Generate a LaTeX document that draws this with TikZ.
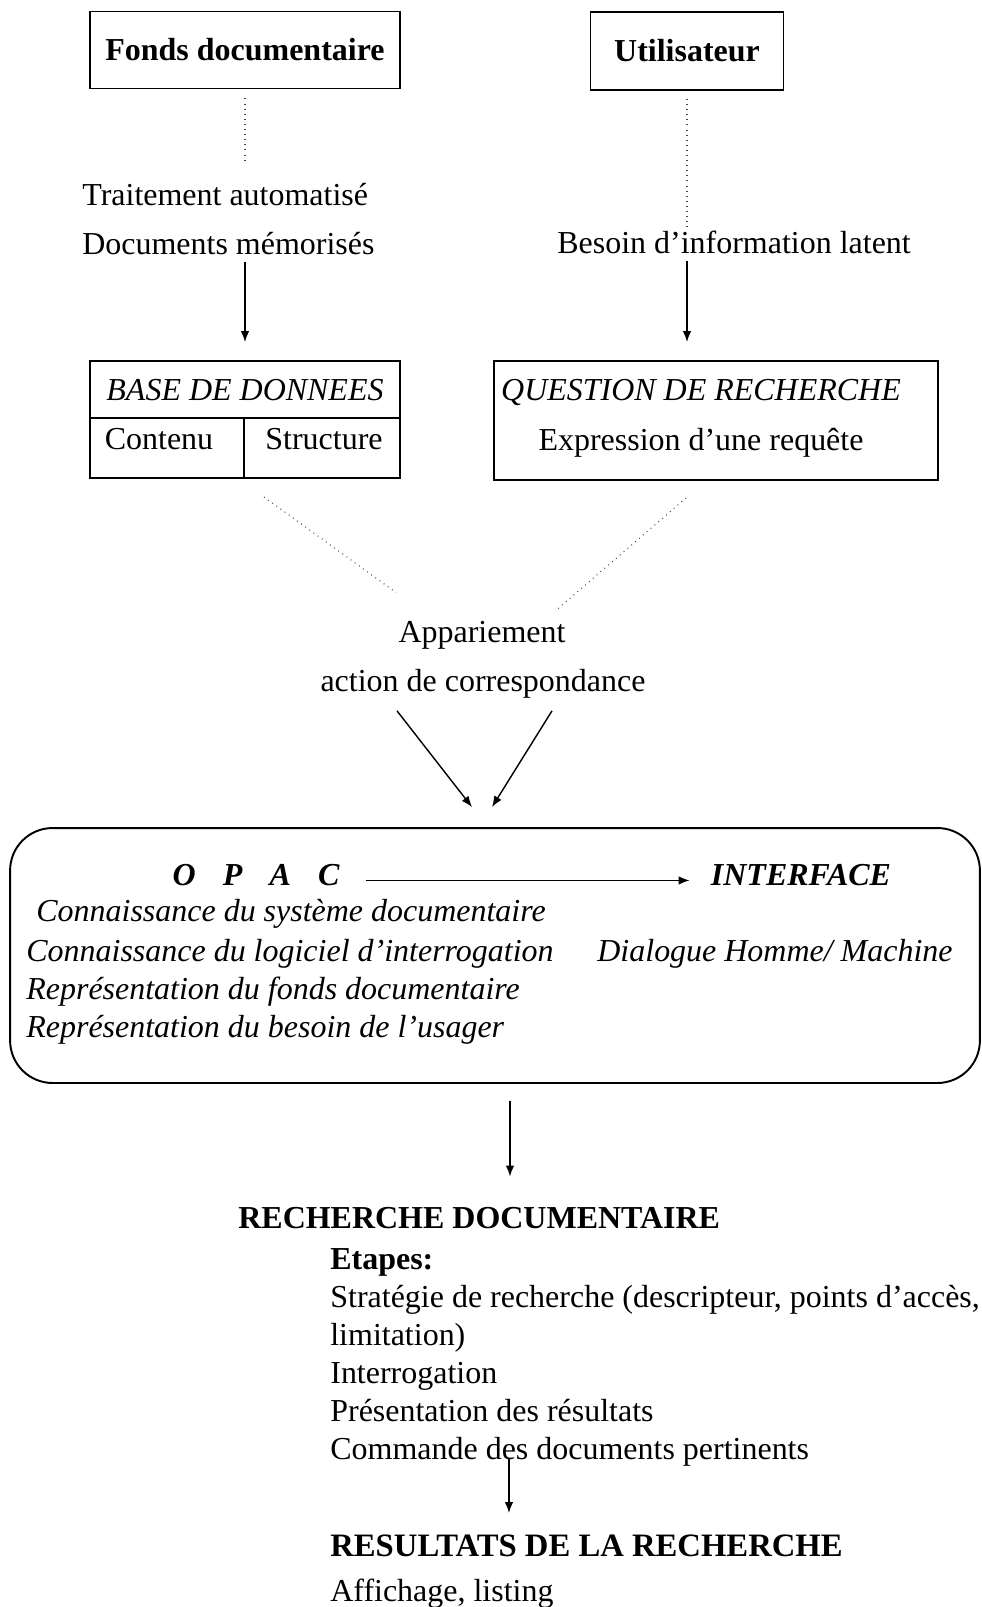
\documentclass[tikz,border=0pt]{standalone}
\usepackage{fontspec}
\setmainfont{Liberation Serif}
\usetikzlibrary{arrows.meta,positioning,calc}
\newcommand{\fsz}{\fontsize{18.2}{21.6}\selectfont}
\tikzset{
  box/.style={draw,line width=1.1pt,inner sep=0pt,font=\fsz},
  lbl/.style={inner sep=0pt,font=\fsz},
  bold/.style={inner sep=0pt,font=\fsz\bfseries},
  ital/.style={inner sep=0pt,font=\fsz\itshape},
  bital/.style={inner sep=0pt,font=\fsz\bfseries\itshape},
  arr/.style={-{Latex[length=2.2mm,width=1.7mm]},line width=0.8pt},
  dotline/.style={line width=0.6pt,dash pattern=on 0.5pt off 2.4pt,black!75},
}

\begin{document}
\begin{tikzpicture}[x=0.02cm,y=-0.02cm]
  \useasboundingbox (0,0) rectangle (982,1607);
  % the two sources
  \node[box,minimum width=6.2cm,minimum height=1.54cm] (fonds) at (245,50) {\bfseries Fonds documentaire\hspace{0.3em}};
  \node[box,minimum width=3.86cm,minimum height=1.56cm] (util) at (687,51) {\bfseries Utilisateur};
  \node[lbl,anchor=mid west] (trait) at (82,201) {Traitement automatisé};
  \node[lbl,anchor=mid west] (docmem) at (82,250) {Documents mémorisés};
  \node[lbl,anchor=mid west] (besoin) at (557,249) {Besoin d’information latent};
  \draw[dotline,shorten <=0.18cm,shorten >=0.44cm] (fonds.south) -- (fonds.south |- trait.north);
  \draw[dotline,shorten <=0.16cm] (util.south) -- (util.south |- besoin.north);
  % base and question
  \node[box,minimum width=6.2cm,minimum height=2.34cm] (base) at (245,419.5) {};
  \node[ital] (basett) at (245,390) {BASE DE DONNEES};
  \coordinate (bsplit) at (244,418);
  \draw[line width=1.1pt] (base.west |- bsplit) -- (base.east |- bsplit);
  \draw[line width=1.1pt] (bsplit) -- (bsplit |- base.south);
  \node[lbl] (contenu) at (159,439) {Contenu};
  \node[lbl] (struct) at (324,439) {Structure};
  \node[box,minimum width=8.88cm,minimum height=2.38cm] (quest) at (716,420.5) {};
  \node[ital] (questt) at (701,392) {QUESTION DE RECHERCHE};
  \node[lbl] (expr) at (701,443) {Expression d’une requête};
  \draw[arr,shorten <=0.14cm,shorten >=0.36cm] (docmem.south -| fonds.south) -- (base.north);
  \draw[arr,shorten <=0.14cm,shorten >=0.36cm] (besoin.south -| util.south) -- (quest.north -| util.south);
  % matching
  \node[lbl] (appar) at (482,635) {Appariement};
  \node[lbl] (corresp) at (483,684) {action de correspondance};
  \draw[dotline] ([shift={(0.38cm,-0.36cm)}]base.south) -- ([shift={(-0.04cm,0.56cm)}]appar.north west);
  \draw[dotline] ([shift={(-0.6cm,-0.34cm)}]quest.south) -- ([shift={(-0.18cm,0.22cm)}]appar.north east);
  \node[box,rounded corners=0.85cm,minimum width=19.4cm,minimum height=5.1cm] (opac) at (495,955.5) {};
  \draw[arr] ([shift={(-1.72cm,-0.24cm)}]corresp.south) -- ([shift={(-0.46cm,0.4cm)}]opac.north);
  \draw[arr] ([shift={(1.38cm,-0.24cm)}]corresp.south) -- ([shift={(-0.06cm,0.4cm)}]opac.north);
  % OPAC / interface
  \node[bital] (opact) at (256,875) {O\hspace{0.85em}P\hspace{0.85em}A\hspace{0.85em}C};
  \node[bital] (iface) at (801,875) {INTERFACE};
  \draw[arr] ([shift={(0.52cm,0.1cm)}]opact.base east) -- ([shift={(-0.42cm,0.1cm)}]iface.base west);
  \node[ital,anchor=mid west] (k1) at (36,917) {Connaissance du système documentaire};
  \node[ital,anchor=mid west] (k2) at (26,957) {Connaissance du logiciel d’interrogation};
  \node[ital,anchor=mid west] (k3) at (26,995) {Représentation du fonds documentaire};
  \node[ital,anchor=mid west] (k4) at (26,1033) {Représentation du besoin de l’usager};
  \node[ital,anchor=mid] (dialog) at (775,957) {Dialogue Homme/ Machine};
  % search
  \node[bold,anchor=mid west] (rech) at (238,1224) {RECHERCHE DOCUMENTAIRE};
  \node[lbl,anchor=north west,align=left] (steps) at (330,1248)
    {\textbf{Etapes:}\\Stratégie de recherche (descripteur, points d’accès,\\limitation)\\
     Interrogation\\Présentation des résultats\\Commande des documents pertinents};
  \coordinate (o5) at ([xshift=0.3cm]opac.south);
  \draw[arr,shorten <=0.34cm,shorten >=0.6cm] (o5) -- (o5 |- rech.north);
  \node[bold,font=\fontsize{18.6}{21.6}\selectfont\bfseries,anchor=mid west] (res) at (330,1552) {RESULTATS DE LA RECHERCHE};
  \node[lbl,anchor=mid west] (aff) at (330,1597) {Affichage, listing};
  \coordinate (s5) at ([xshift=3.58cm,yshift=0.16cm]steps.south west);
  \draw[arr,shorten >=0.42cm] (s5) -- (s5 |- res.north);
\end{tikzpicture}
\end{document}
